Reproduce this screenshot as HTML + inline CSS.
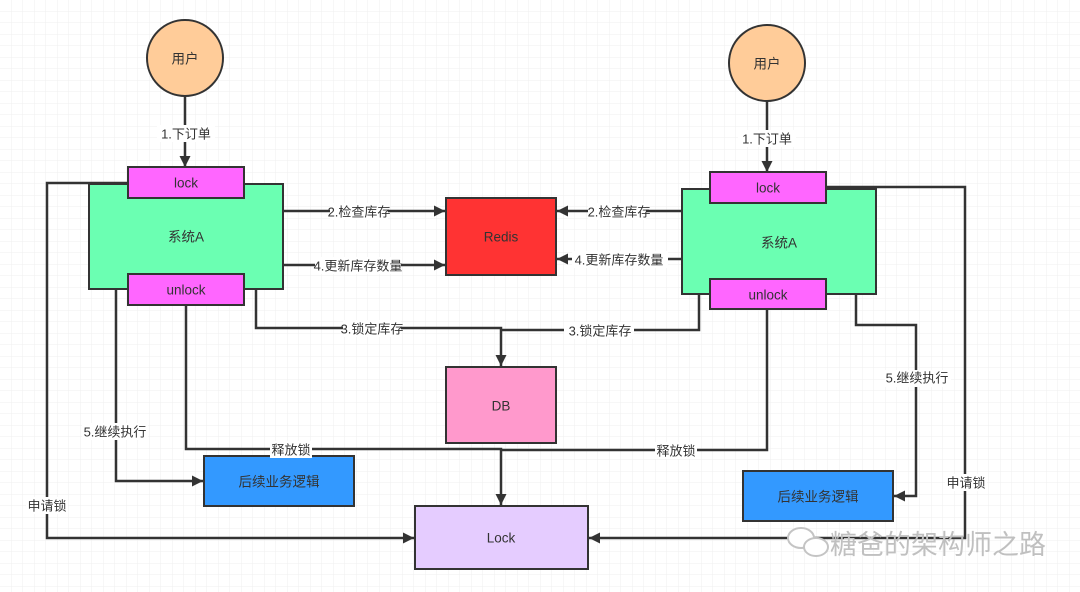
<!DOCTYPE html>
<html><head><meta charset="utf-8"><style>
body{margin:0;width:1080px;height:592px;overflow:hidden;background:#fff;}
svg{display:block}
text{font-family:"Liberation Sans","Noto Sans CJK SC",sans-serif;fill:#333;}
</style></head><body>
<svg width="1080" height="592" viewBox="0 0 1080 592" xmlns="http://www.w3.org/2000/svg">
<defs>
<pattern id="g" width="11.5" height="11.5" patternUnits="userSpaceOnUse">
<path d="M11.5 0V11.5H0" fill="none" stroke="#efefef" stroke-width="1"/>
</pattern>
<marker id="a" markerWidth="12" markerHeight="12" refX="11" refY="6" orient="auto" markerUnits="userSpaceOnUse">
<path d="M0,0.5 L11,6 L0,11.5 Z" fill="#333"/>
</marker>
</defs>
<rect width="1080" height="592" fill="url(#g)"/>
<g fill="none" stroke="#333" stroke-width="2.5">
<path d="M185 97V167" marker-end="url(#a)"/>
<path d="M767 101V172" marker-end="url(#a)"/>
<path d="M283 211H445" marker-end="url(#a)"/>
<path d="M283 265H445" marker-end="url(#a)"/>
<path d="M682 211H557" marker-end="url(#a)"/>
<path d="M682 259H557" marker-end="url(#a)"/>
<path d="M256 289V328H501V366" marker-end="url(#a)"/>
<path d="M699 294V330H501"/>
<path d="M186 305V449H501V505" marker-end="url(#a)"/>
<path d="M767 309V450H501"/>
<path d="M116 289V481H203" marker-end="url(#a)"/>
<path d="M856 294V325H916V496H894" marker-end="url(#a)"/>
<path d="M128 183H47V538H414" marker-end="url(#a)"/>
<path d="M826 187H965V538H589" marker-end="url(#a)"/>
</g>
<g stroke="#333" stroke-width="2">
<circle cx="185" cy="58" r="38" fill="#ffcc99"/>
<circle cx="767" cy="63" r="38" fill="#ffcc99"/>
<rect x="89" y="184" width="194" height="105" fill="#6bffb2"/>
<rect x="128" y="167" width="116" height="31" fill="#ff66ff"/>
<rect x="128" y="274" width="116" height="31" fill="#ff66ff"/>
<rect x="682" y="189" width="194" height="105" fill="#6bffb2"/>
<rect x="710" y="172" width="116" height="31" fill="#ff66ff"/>
<rect x="710" y="279" width="116" height="30" fill="#ff66ff"/>
<rect x="446" y="198" width="110" height="77" fill="#ff3333"/>
<rect x="446" y="367" width="110" height="76" fill="#ff99cc"/>
<rect x="415" y="506" width="173" height="63" fill="#e5ccff"/>
<rect x="204" y="456" width="150" height="50" fill="#3399ff"/>
<rect x="743" y="471" width="150" height="50" fill="#3399ff"/>
</g>
<g font-size="13.5" text-anchor="middle" dominant-baseline="central">
<text x="185" y="59">用户</text>
<text x="767" y="64">用户</text>
<text x="186" y="183">lock</text>
<text x="186" y="290">unlock</text>
<text x="186" y="237">系统A</text>
<text x="768" y="188">lock</text>
<text x="768" y="295">unlock</text>
<text x="779" y="243">系统A</text>
<text x="501" y="237">Redis</text>
<text x="501" y="406">DB</text>
<text x="501" y="538">Lock</text>
<text x="279" y="482">后续业务逻辑</text>
<text x="818" y="497">后续业务逻辑</text>
</g>
<g font-size="13" text-anchor="middle" dominant-baseline="central">
<rect x="157" y="125" width="58" height="17" fill="#fff"/><text x="186" y="134">1.下订单</text>
<rect x="738" y="130" width="58" height="17" fill="#fff"/><text x="767" y="139">1.下订单</text>
<rect x="330" y="203" width="58" height="17" fill="#fff"/><text x="359" y="212">2.检查库存</text>
<rect x="315" y="257" width="86" height="17" fill="#fff"/><text x="358" y="266">4.更新库存数量</text>
<rect x="588" y="203" width="58" height="17" fill="#fff"/><text x="619" y="212">2.检查库存</text>
<rect x="572" y="251" width="96" height="17" fill="#fff"/><text x="619" y="260">4.更新库存数量</text>
<rect x="343" y="320" width="58" height="17" fill="#fff"/><text x="372" y="329">3.锁定库存</text>
<rect x="564" y="322" width="70" height="17" fill="#fff"/><text x="600" y="331">3.锁定库存</text>
<rect x="82" y="423" width="66" height="17" fill="#fff"/><text x="115" y="432">5.继续执行</text>
<rect x="885" y="370" width="66" height="17" fill="#fff"/><text x="917" y="378">5.继续执行</text>
<rect x="270" y="441" width="42" height="17" fill="#fff"/><text x="291" y="450">释放锁</text>
<rect x="655" y="442" width="42" height="17" fill="#fff"/><text x="676" y="451">释放锁</text>
<rect x="26" y="497" width="42" height="17" fill="#fff"/><text x="47" y="506">申请锁</text>
<rect x="945" y="474" width="42" height="17" fill="#fff"/><text x="966" y="483">申请锁</text>
</g>
<g>
<ellipse cx="801" cy="538" rx="13" ry="10" fill="#fff" stroke="#c4c4c4" stroke-width="2"/>
<ellipse cx="816" cy="547" rx="12" ry="9" fill="#fff" stroke="#c4c4c4" stroke-width="2"/>
<text x="830" y="545" font-size="27" dominant-baseline="central" style="fill:#c0c0c0">糖爸的架构师之路</text>
</g>
</svg>
</body></html>
